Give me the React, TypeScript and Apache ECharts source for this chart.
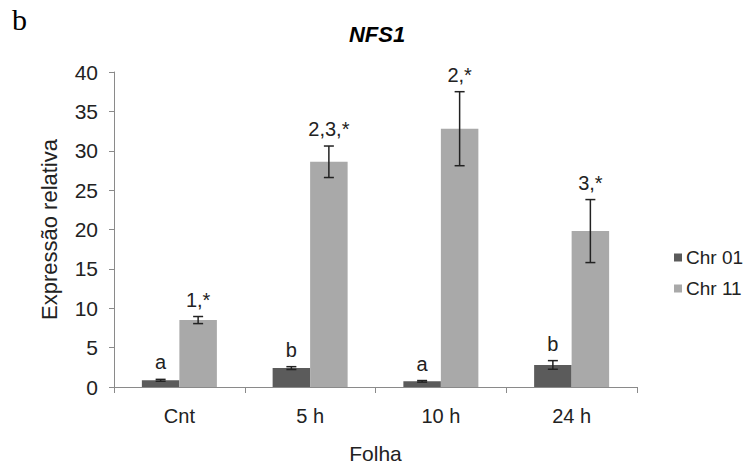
import React, { useEffect, useRef } from "react";
import * as echarts from "echarts";

const categories = ["Cnt", "5 h", "10 h", "24 h"];
const chr01 = [0.85, 2.4, 0.72, 2.8];
const chr01Err = [0.12, 0.18, 0.1, 0.55];
const chr11 = [8.5, 28.6, 32.8, 19.8];
const chr11Err = [0.45, 2.0, 4.7, 4.0];
const chr01Labels = ["a", "b", "a", "b"];
const chr11Labels = ["1,*", "2,3,*", "2,*", "3,*"];
const yTicks = [0, 5, 10, 15, 20, 25, 30, 35, 40];

const DARK = "#5b5b5b";
const LIGHT = "#a9a9a9";
const FONT = "'Liberation Sans', Arial, sans-serif";
const BAR_W = 37.5;

function errSeries(name: string, vals: number[], errs: number[], labels: string[], offset: number) {
  return {
    type: "custom",
    name,
    z: 10,
    data: vals.map((v, i) => [i, v, errs[i], labels[i]]),
    renderItem: (params: any, api: any) => {
      const idx = api.value(0);
      const v = api.value(1);
      const e = api.value(2);
      const lab = labels[params.dataIndex];
      const base = api.coord([idx, v]);
      const x = base[0] + offset;
      const top = api.coord([idx, v + e])[1];
      const bot = api.coord([idx, v - e])[1];
      const cap = 5;
      const st = { stroke: "#222", lineWidth: 1.5 };
      return {
        type: "group",
        children: [
          { type: "line", shape: { x1: x, y1: top, x2: x, y2: bot }, style: st },
          { type: "line", shape: { x1: x - cap, y1: top, x2: x + cap, y2: top }, style: st },
          { type: "line", shape: { x1: x - cap, y1: bot, x2: x + cap, y2: bot }, style: st },
          {
            type: "text",
            x,
            y: top - 7,
            style: {
              text: lab,
              fill: "#222",
              font: `20px ${FONT}`,
              textAlign: "center",
              textVerticalAlign: "bottom",
            },
          },
        ],
      };
    },
  };
}

export default function App() {
  const ref = useRef<HTMLDivElement>(null);
  useEffect(() => {
    if (!ref.current) return;
    const chart = echarts.init(ref.current, null, { renderer: "svg" });
    chart.setOption({
      animation: false,
      backgroundColor: "#fff",
      title: {
        text: "NFS1",
        left: 372,
        top: 18,
        textAlign: "center",
        textStyle: { fontFamily: FONT, fontSize: 22, fontWeight: "bold", fontStyle: "italic", color: "#000" },
      },
      graphic: [
        {
          type: "text",
          left: 12,
          top: 4,
          style: { text: "b", font: "30px 'Liberation Serif', 'Times New Roman', serif", fill: "#000" },
        },
      ],
      legend: {
        data: ["Chr 01", "Chr 11"],
        orient: "vertical",
        left: 669,
        top: 243,
        icon: "rect",
        itemWidth: 8,
        itemHeight: 8,
        itemGap: 12,
        textStyle: { fontFamily: FONT, fontSize: 19, color: "#222", padding: [0, 0, 0, -1] },
      },
      grid: { left: 114, right: 107, top: 72, bottom: 87 },
      xAxis: {
        type: "category",
        data: categories,
        name: "Folha",
        nameLocation: "middle",
        nameGap: 56,
        nameTextStyle: { fontFamily: FONT, fontSize: 21, color: "#222" },
        axisLine: { lineStyle: { color: "#8a8a8a", width: 1 } },
        axisTick: { show: true, length: 6, alignWithLabel: false, lineStyle: { color: "#8a8a8a" } },
        axisLabel: { fontFamily: FONT, fontSize: 20, color: "#222", margin: 19 },
      },
      yAxis: {
        type: "value",
        min: 0,
        max: 40,
        interval: 5,
        name: "Expressão relativa",
        nameLocation: "middle",
        nameGap: 54,
        nameTextStyle: { fontFamily: FONT, fontSize: 22, color: "#222" },
        axisLine: { show: true, lineStyle: { color: "#8a8a8a", width: 1 } },
        axisTick: { show: true, length: 5, lineStyle: { color: "#8a8a8a" } },
        splitLine: { show: false },
        axisLabel: {
          fontFamily: FONT,
          fontSize: 21,
          color: "#222",
          margin: 16,
          formatter: (v: number) => (yTicks.includes(v) ? String(v) : ""),
        },
      },
      series: [
        {
          type: "bar",
          name: "Chr 01",
          data: chr01,
          barWidth: BAR_W,
          barGap: "0%",
          itemStyle: { color: DARK },
        },
        {
          type: "bar",
          name: "Chr 11",
          data: chr11,
          barWidth: BAR_W,
          barGap: "0%",
          itemStyle: { color: LIGHT },
        },
        errSeries("err01", chr01, chr01Err, chr01Labels, -BAR_W / 2),
        errSeries("err11", chr11, chr11Err, chr11Labels, BAR_W / 2),
      ],
    });
    return () => chart.dispose();
  }, []);
  return <div ref={ref} style={{ width: 744, height: 474, position: "absolute", left: 0, top: 0 }} />;
}
